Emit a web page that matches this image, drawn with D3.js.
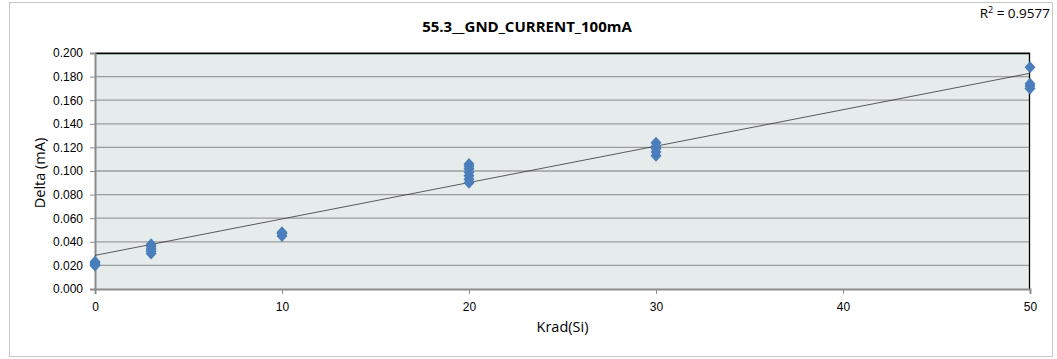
<!DOCTYPE html>
<html>
<head>
<meta charset="utf-8">
<script src="https://cdn.jsdelivr.net/npm/d3@7"></script>
<style>
  body { margin: 0; background: #fff; }
  svg { display: block; font-family: "Open Sans", "Liberation Sans", sans-serif; }
</style>
</head>
<body>
<div id="chart"></div>
<script>
const width = 1057;
const height = 359;
const margin = { top: 53, right: 27, bottom: 70, left: 95 };

// dose levels and the measured deltas at each one
const doses = [0, 3, 10, 20, 30, 50];
const deltas = [
    [0.020, 0.021, 0.022, 0.023],
    [0.030, 0.032, 0.034, 0.036, 0.038],
    [0.045, 0.047, 0.048],
    [0.090, 0.093, 0.096, 0.099, 0.102, 0.104, 0.106],
    [0.113, 0.116, 0.119, 0.121, 0.124],
    [0.170, 0.172, 0.174, 0.188]
];
// linear trendline as drawn in the chart (x, y at each end)
const trendX = [0, 50];
const trendY = [0.0285, 0.1828];
const rSquared = "0.9577";

const xTicks = [0, 10, 20, 30, 40, 50];
const yTicks = [0, 0.02, 0.04, 0.06, 0.08, 0.10, 0.12, 0.14, 0.16, 0.18, 0.20];

const points = doses.flatMap((x, i) => deltas[i].map(y => ({ x: x, y: y })));

const w = width - margin.left - margin.right;
const h = height - margin.top - margin.bottom;

const svg = d3.select("#chart")
    .append("svg")
    .attr("width", width)
    .attr("height", height);

// outer chart frame
svg.append("rect")
    .attr("x", 9.5).attr("y", 2.5)
    .attr("width", 1043).attr("height", 354)
    .attr("fill", "#fff")
    .attr("stroke", "#c8c8c8");

const g = svg.append("g")
    .attr("transform", `translate(${margin.left}, ${margin.top})`);

const xScale = d3.scaleLinear().domain([0, 50]).range([0, w]);
const yScale = d3.scaleLinear().domain([0, 0.2]).range([h, 0]);

g.append("rect")
    .attr("width", w).attr("height", h)
    .attr("fill", "#e6ecec");

// horizontal gridlines
g.selectAll(".grid")
    .data(yTicks.slice(1))
    .enter().append("line")
    .attr("class", "grid")
    .attr("x1", 0).attr("x2", w)
    .attr("y1", d => yScale(d)).attr("y2", d => yScale(d))
    .attr("stroke", "#9c9c9c")
    .attr("stroke-width", 1.3);

// top and right border
g.append("path")
    .attr("d", `M0,0.5H${w - 0.5}V${h}`)
    .attr("fill", "none")
    .attr("stroke", "#000")
    .attr("stroke-width", 1.3);

const yAxis = g.append("g")
    .call(d3.axisLeft(yScale).tickValues(yTicks).tickFormat(d3.format(".3f")).tickSize(5).tickPadding(7));
const xAxis = g.append("g")
    .attr("transform", `translate(0, ${h})`)
    .call(d3.axisBottom(xScale).tickValues(xTicks).tickFormat(d3.format("d")).tickSize(5).tickPadding(8));

[yAxis, xAxis].forEach(ax => {
    ax.select(".domain").attr("stroke", "#8c8c8c").attr("stroke-width", 2);
    ax.selectAll(".tick line").attr("stroke", "#8c8c8c");
    ax.selectAll("text").attr("fill", "#000").style("font-size", "12px");
});

// trendline
g.append("line")
    .attr("x1", xScale(trendX[0])).attr("y1", yScale(trendY[0]))
    .attr("x2", xScale(trendX[1])).attr("y2", yScale(trendY[1]))
    .attr("stroke", "#333")
    .attr("stroke-width", 0.8);

// diamonds
g.selectAll(".pt")
    .data(points)
    .enter().append("path")
    .attr("class", "pt")
    .attr("d", "M0,-6L5.5,0L0,6L-5.5,0Z")
    .attr("transform", d => `translate(${xScale(d.x)}, ${yScale(d.y)})`)
    .attr("fill", "#4a7ebb");

svg.append("text")
    .attr("x", 527).attr("y", 32)
    .attr("text-anchor", "middle")
    .style("font-size", "15px")
    .style("font-weight", "bold")
    .text("55.3__GND_CURRENT_100mA");

const r2 = svg.append("text")
    .attr("x", 1050).attr("y", 18)
    .attr("text-anchor", "end")
    .style("font-size", "13.5px");
r2.append("tspan").text("R");
r2.append("tspan").attr("dy", -5).style("font-size", "9px").text("2");
r2.append("tspan").attr("dy", 5).text(" = " + rSquared);

svg.append("text")
    .attr("transform", `translate(45, ${margin.top + h / 2 + 2}) rotate(-90)`)
    .attr("text-anchor", "middle")
    .style("font-size", "14.5px")
    .text("Delta (mA)");

svg.append("text")
    .attr("x", margin.left + w / 2).attr("y", 332)
    .attr("text-anchor", "middle")
    .style("font-size", "14.5px")
    .text("Krad(Si)");
</script>
</body>
</html>
